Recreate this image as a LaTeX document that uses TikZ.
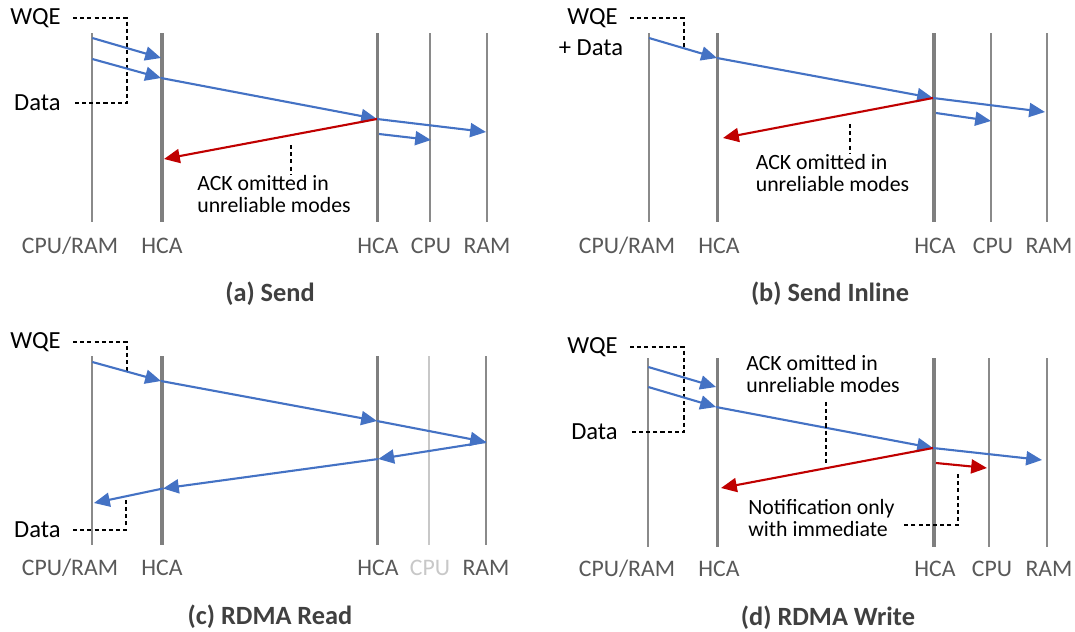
\documentclass[tikz,border=0pt]{standalone}
\usepackage{fontspec}
\setmainfont{Carlito}
\usetikzlibrary{arrows.meta,positioning}

\definecolor{msgblue}{HTML}{4472C4}
\definecolor{ackred}{HTML}{C00000}
\definecolor{lanegray}{HTML}{8A8A8A}
\definecolor{hcagray}{HTML}{7F7F7F}
\definecolor{idlegray}{HTML}{C8C8C8}
\definecolor{labelgray}{HTML}{595959}
\definecolor{capgray}{HTML}{404040}

\tikzset{>={Triangle[length=9pt,width=8pt]},
  lane/.style={draw=lanegray,line width=1.3pt},
  hcalane/.style={draw=hcagray,line width=1.9pt},
  idlelane/.style={draw=idlegray,line width=1.3pt},
  msg/.style={->,draw=msgblue,line width=1.2pt},
  ackmsg/.style={->,draw=ackred,line width=1.2pt},
  lead/.style={draw=black,line width=0.6pt,dash pattern=on 2.3pt off 1.8pt},
  lanelabel/.style={text=labelgray,font=\fontsize{13.5}{15}\selectfont},
  tag/.style={font=\fontsize{14}{16}\selectfont,inner xsep=0.24cm,inner ysep=1pt},
  note/.style={font=\fontsize{12.4}{12.6}\selectfont,align=left,inner sep=0pt,anchor=west},
  caption/.style={text=capgray,font=\bfseries\fontsize{15}{17}\selectfont}}

\begin{document}
\begin{tikzpicture}[x=0.02cm,y=-0.02cm]
  \useasboundingbox (0,0) rectangle (1075,632);

  % (a) Send
  \foreach \x in {92.3,430,486.7} \draw[lane] (\x,33) -- (\x,222);
  \foreach \x in {162,377.7} \draw[hcalane] (\x,33) -- (\x,222);

  \node[lanelabel] (a-host) at (70,246) {CPU/RAM};
  \node[lanelabel] (a-hca) at (162,246) {HCA};
  \node[lanelabel] (a-rhca) at (378,246) {HCA};
  \node[lanelabel] (a-rcpu) at (431,246) {CPU};
  \node[lanelabel] (a-rram) at (487,246) {RAM};

  \node[tag,anchor=east] (a-wqe) at (73,18) {WQE};
  \node[tag,anchor=east] (a-data) at (73,103) {Data};
  \coordinate (a-brk) at (127,60);
  \draw[lead] (a-wqe.east) -| (a-brk) |- (a-data.east);

  \coordinate (a-s1) at (92.3,38);
  \coordinate (a-s2) at (92.3,59);
  \coordinate (a-h1) at (161,58);
  \coordinate (a-h2) at (161,78);
  \coordinate (a-h3) at (164,159);
  \coordinate (a-r1) at (377,119);
  \coordinate (a-r2) at (379,134);
  \coordinate (a-c1) at (431,140);
  \coordinate (a-m1) at (486,132);
  \draw[msg] (a-s1) -- (a-h1);
  \draw[msg] (a-s2) -- (a-h2);
  \draw[msg] (a-h2) -- (a-r1);
  \draw[msg] (a-r1) -- (a-m1);
  \draw[msg] (a-r2) -- (a-c1);
  \draw[ackmsg] (a-r1) -- (a-h3);

  \node[note] (a-ack) at (197,194) {ACK omitted in\\unreliable modes};
  \coordinate (a-ackpt) at (291,145);
  \draw[lead] (a-ackpt) -- (a-ackpt |- a-ack.north);

  \node[caption] (a-cap) at (270,294) {(a) Send};

  % (b) Send Inline
  \foreach \x in {649,990.7,1047} \draw[lane] (\x,33) -- (\x,222);
  \foreach \x in {717.7,934} \draw[hcalane] (\x,33) -- (\x,222);

  \node[lanelabel] (b-host) at (627,246) {CPU/RAM};
  \node[lanelabel] (b-hca) at (719,246) {HCA};
  \node[lanelabel] (b-rhca) at (935,246) {HCA};
  \node[lanelabel] (b-rcpu) at (993,246) {CPU};
  \node[lanelabel] (b-rram) at (1049,246) {RAM};

  \node[tag,anchor=east] (b-wqe) at (630,18) {WQE};
  \node[tag] (b-data) at (591,48) {+ Data};
  \coordinate (b-wqept) at (684,47);
  \draw[lead] (b-wqe.east) -| (b-wqept);

  \coordinate (b-s1) at (649,38);
  \coordinate (b-h1) at (717,58);
  \coordinate (b-h2) at (723,138);
  \coordinate (b-r1) at (933,98);
  \coordinate (b-r2) at (936,113);
  \coordinate (b-c1) at (991,121);
  \coordinate (b-m1) at (1045,112);
  \draw[msg] (b-s1) -- (b-h1);
  \draw[msg] (b-h1) -- (b-r1);
  \draw[msg] (b-r1) -- (b-m1);
  \draw[msg] (b-r2) -- (b-c1);
  \draw[ackmsg] (b-r1) -- (b-h2);

  \node[note] (b-ack) at (755.5,173) {ACK omitted in\\unreliable modes};
  \coordinate (b-ackpt) at (850,124);
  \draw[lead] (b-ackpt) -- (b-ackpt |- b-ack.north);

  \node[caption] (b-cap) at (830,294) {(b) Send Inline};

  % (c) RDMA Read
  \foreach \x in {92.3,486} \draw[lane] (\x,356) -- (\x,545);
  \foreach \x in {162,377.7} \draw[hcalane] (\x,356) -- (\x,545);
  \draw[idlelane] (429.3,356) -- (429.3,545);

  \node[lanelabel] (c-host) at (70,568) {CPU/RAM};
  \node[lanelabel] (c-hca) at (162,568) {HCA};
  \node[lanelabel] (c-rhca) at (378,568) {HCA};
  \node[lanelabel,text=idlegray] (c-rcpu) at (430,568) {CPU};
  \node[lanelabel] (c-rram) at (486,568) {RAM};

  \node[tag,anchor=east] (c-wqe) at (73,342) {WQE};
  \node[tag,anchor=east] (c-data) at (73,530) {Data};
  \coordinate (c-wqept) at (127,372);
  \coordinate (c-datapt) at (126,498);
  \draw[lead] (c-wqe.east) -| (c-wqept);
  \draw[lead] (c-data.east) -| (c-datapt);

  \coordinate (c-s1) at (92.3,362);
  \coordinate (c-s2) at (94,503);
  \coordinate (c-h1) at (161,381);
  \coordinate (c-h2) at (163,488.5);
  \coordinate (c-r1) at (377,421);
  \coordinate (c-r2) at (378.3,459);
  \coordinate (c-m1) at (486,442);
  \draw[msg] (c-s1) -- (c-h1);
  \draw[msg] (c-h1) -- (c-r1);
  \draw[msg] (c-r1) -- (c-m1);
  \draw[msg] (c-m1) -- (c-r2);
  \draw[msg] (c-r2) -- (c-h2);
  \draw[msg] (c-h2) -- (c-s2);

  \node[caption] (c-cap) at (270,617) {(c) RDMA Read};

  % (d) RDMA Write
  \foreach \x in {648.3,989.3,1046.7} \draw[lane] (\x,358) -- (\x,547);
  \foreach \x in {717.7,934} \draw[hcalane] (\x,358) -- (\x,547);

  \node[lanelabel] (d-host) at (627,569) {CPU/RAM};
  \node[lanelabel] (d-hca) at (719,569) {HCA};
  \node[lanelabel] (d-rhca) at (935,569) {HCA};
  \node[lanelabel] (d-rcpu) at (992,569) {CPU};
  \node[lanelabel] (d-rram) at (1049,569) {RAM};

  \node[tag,anchor=east] (d-wqe) at (630,347) {WQE};
  \node[tag,anchor=east] (d-data) at (630,432) {Data};
  \coordinate (d-brk) at (684,390);
  \draw[lead] (d-wqe.east) -| (d-brk) |- (d-data.east);

  \coordinate (d-s1) at (648.3,367);
  \coordinate (d-s2) at (648.3,387);
  \coordinate (d-h1) at (716,387);
  \coordinate (d-h2) at (716,407);
  \coordinate (d-h3) at (721,488);
  \coordinate (d-r1) at (933,448);
  \coordinate (d-r2) at (936,463);
  \coordinate (d-c1) at (987,468);
  \coordinate (d-m1) at (1042,460);
  \draw[msg] (d-s1) -- (d-h1);
  \draw[msg] (d-s2) -- (d-h2);
  \draw[msg] (d-h2) -- (d-r1);
  \draw[msg] (d-r1) -- (d-m1);
  \draw[ackmsg] (d-r1) -- (d-h3);
  \draw[ackmsg] (d-r2) -- (d-c1);

  \node[note] (d-ack) at (746,374) {ACK omitted in\\unreliable modes};
  \coordinate (d-ackpt) at (826,463);
  \draw[lead] ([yshift=-5]d-ack.south -| d-ackpt) -- (d-ackpt);

  \node[note] (d-note) at (748,518) {Notification only\\with immediate};
  \coordinate (d-notept) at (958,474);
  \coordinate (d-noteend) at (904,525);
  \draw[lead] (d-notept) |- (d-noteend);

  \node[caption] (d-cap) at (828,618) {(d) RDMA Write};
\end{tikzpicture}
\end{document}
